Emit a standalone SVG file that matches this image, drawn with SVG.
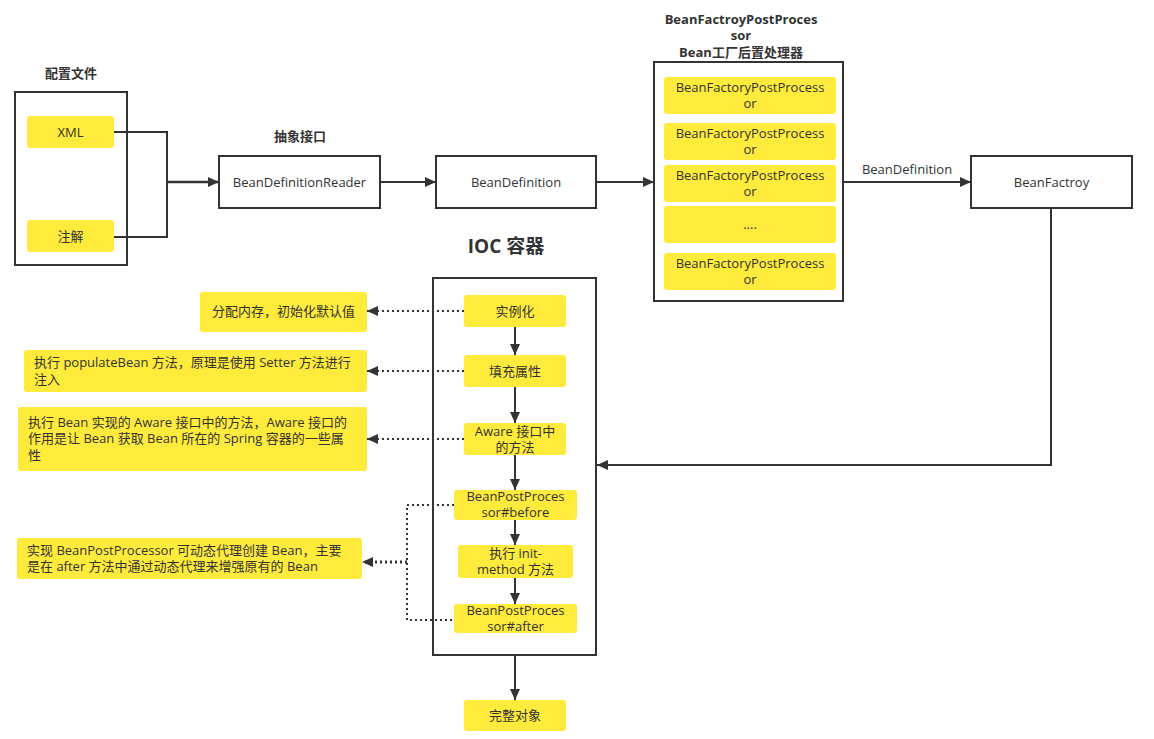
<svg xmlns="http://www.w3.org/2000/svg" width="1154" height="739" viewBox="0 0 1154 739">
<defs>
<style>
.t{font-family:"Open Sans","Noto Sans CJK SC",sans-serif;font-size:13px;fill:#333;}
.c{text-anchor:middle;}
.b{font-weight:bold;}
.box{fill:#fff;stroke:#333;stroke-width:2;}
.y{fill:#FFEB3B;stroke:none;}
.ln{fill:none;stroke:#333;stroke-width:2;}
.dot{fill:none;stroke:#333;stroke-width:2;stroke-dasharray:2 3;}
</style>
<marker id="ah" markerUnits="userSpaceOnUse" markerWidth="12" markerHeight="10" refX="11" refY="5" orient="auto" viewBox="0 0 12 10">
<path d="M0,0 L11,5 L0,10 z" fill="#333" stroke="none"/>
</marker>
</defs>
<rect width="1154" height="739" fill="#fff"/>

<g id="config">
<text class="t c b" x="71" y="77.5">配置文件</text>
<rect class="box" x="15" y="92" width="112" height="173"/>
</g>
<g id="xml"><rect class="y" x="27" y="116" width="87" height="32" rx="3"/><text class="t c" x="70.5" y="136.5">XML</text></g>
<g id="annotation"><rect class="y" x="27" y="220" width="87" height="32" rx="3"/><text class="t c" x="70.5" y="240.5">注解</text></g>

<g id="reader">
<text class="t c b" x="300" y="140.5">抽象接口</text>
<rect class="box" x="219" y="156" width="161" height="52"/>
<text class="t c" x="299.5" y="186.5">BeanDefinitionReader</text>
</g>
<g id="beandef">
<rect class="box" x="436" y="156" width="160" height="52"/>
<text class="t c" x="516" y="186.5">BeanDefinition</text>
</g>

<g id="bfpp">
<text class="t c b" x="741" y="23.5">BeanFactroyPostProces</text>
<text class="t c b" x="741" y="40">sor</text>
<text class="t c b" x="741" y="56.5">Bean工厂后置处理器</text>
<rect class="box" x="654" y="62" width="189" height="239"/>
<rect class="y" x="664" y="77" width="172" height="37" rx="3"/>
<text class="t c" x="750" y="91.5">BeanFactoryPostProcess</text><text class="t c" x="750" y="107.5">or</text>
<rect class="y" x="664" y="123" width="172" height="37" rx="3"/>
<text class="t c" x="750" y="137.5">BeanFactoryPostProcess</text><text class="t c" x="750" y="153.5">or</text>
<rect class="y" x="664" y="165" width="172" height="37" rx="3"/>
<text class="t c" x="750" y="179.5">BeanFactoryPostProcess</text><text class="t c" x="750" y="195.5">or</text>
<rect class="y" x="664" y="206" width="172" height="37" rx="3"/>
<text class="t c" x="750" y="229">....</text>
<rect class="y" x="664" y="253" width="172" height="37" rx="3"/>
<text class="t c" x="750" y="267.5">BeanFactoryPostProcess</text><text class="t c" x="750" y="283.5">or</text>
</g>

<g id="beanfactory">
<rect class="box" x="971" y="156" width="161" height="52"/>
<text class="t c" x="1051.5" y="186.5">BeanFactroy</text>
</g>

<g id="ioc">
<text class="t c b" x="506" y="253" style="font-size:19px">IOC 容器</text>
<rect class="box" x="433" y="278" width="163" height="377"/>
</g>
<g id="instantiate"><rect class="y" x="464" y="295" width="102" height="32" rx="3"/><text class="t c" x="515" y="315.5">实例化</text></g>
<g id="populate"><rect class="y" x="464" y="355" width="102" height="32" rx="3"/><text class="t c" x="515" y="375.5">填充属性</text></g>
<g id="aware"><rect class="y" x="464" y="423" width="102" height="32" rx="3"/><text class="t c" x="515" y="435.5">Aware 接口中</text><text class="t c" x="515" y="451.5">的方法</text></g>
<g id="bppbefore"><rect class="y" x="454" y="490" width="123" height="30" rx="3"/><text class="t c" x="515.5" y="501">BeanPostProces</text><text class="t c" x="515.5" y="517">sor#before</text></g>
<g id="init"><rect class="y" x="458" y="545" width="115" height="33" rx="3"/><text class="t c" x="515.5" y="557.5">执行 init-</text><text class="t c" x="515.5" y="573.5">method 方法</text></g>
<g id="bppafter"><rect class="y" x="454" y="604" width="123" height="29" rx="3"/><text class="t c" x="515.5" y="614.5">BeanPostProces</text><text class="t c" x="515.5" y="630.5">sor#after</text></g>
<g id="complete"><rect class="y" x="464" y="700" width="102" height="31" rx="3"/><text class="t c" x="515" y="720">完整对象</text></g>

<g id="note1"><rect class="y" x="200" y="292" width="167" height="40" rx="3"/><text class="t c" x="283.5" y="315.5">分配内存，初始化默认值</text></g>
<g id="note2"><rect class="y" x="24" y="350" width="343" height="42" rx="3"/><text class="t" x="34" y="366.5">执行 populateBean 方法，原理是使用 Setter 方法进行</text><text class="t" x="34" y="383.5">注入</text></g>
<g id="note3"><rect class="y" x="18" y="407" width="349" height="64" rx="3"/><text class="t" x="28" y="426.5">执行 Bean 实现的 Aware 接口中的方法，Aware 接口的</text><text class="t" x="28" y="443">作用是让 Bean 获取 Bean 所在的 Spring 容器的一些属</text><text class="t" x="28" y="459.5">性</text></g>
<g id="note4"><rect class="y" x="17" y="538" width="345" height="41" rx="3"/><text class="t" x="27" y="555">实现 BeanPostProcessor 可动态代理创建 Bean，主要</text><text class="t" x="27" y="571">是在 after 方法中通过动态代理来增强原有的 Bean</text></g>

<g id="connectors">
<path class="ln" d="M114,132 H167 V182"/>
<path class="ln" d="M114,237 H167 V182"/>
<path class="ln" d="M167,182 H219" style="stroke-width:2.6" marker-end="url(#ah)"/>
<path class="ln" d="M380,182 H436" marker-end="url(#ah)"/>
<path class="ln" d="M596,182 H654" marker-end="url(#ah)"/>
<path class="ln" d="M843,182 H971" marker-end="url(#ah)"/>
<text class="t c" x="907" y="173.5">BeanDefinition</text>
<path class="ln" d="M1051,208 V465 H597" marker-end="url(#ah)"/>
<path class="ln" d="M515,327 V355" marker-end="url(#ah)"/>
<path class="ln" d="M515,387 V423" marker-end="url(#ah)"/>
<path class="ln" d="M515,455 V490" marker-end="url(#ah)"/>
<path class="ln" d="M515,520 V545" marker-end="url(#ah)"/>
<path class="ln" d="M515,578 V604" marker-end="url(#ah)"/>
<path class="ln" d="M515,655 V700" marker-end="url(#ah)"/>
<path class="dot" d="M464,311 H367" marker-end="url(#ah)"/>
<path class="dot" d="M464,371 H367" marker-end="url(#ah)"/>
<path class="dot" d="M464,439 H367" marker-end="url(#ah)"/>
<path class="dot" d="M454,505 H407 V620 H454"/>
<path class="dot" d="M407,562 H362" style="stroke-width:3" marker-end="url(#ah)"/>
</g>
</svg>
